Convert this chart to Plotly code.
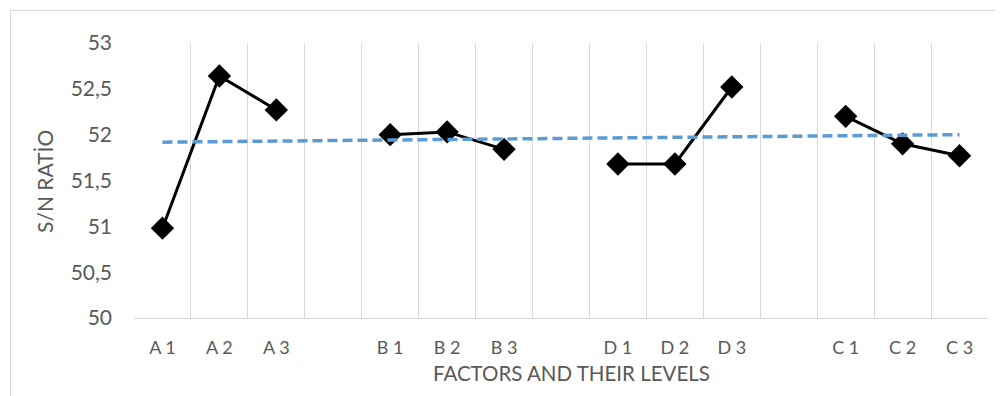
import numpy as np
import plotly.graph_objects as go

categories = ["A 1", "A 2", "A 3", " ", "B 1", "B 2", "B 3", "  ",
              "D 1", "D 2", "D 3", "   ", "C 1", "C 2", "C 3"]
sn_ratio = [50.98, 52.64, 52.27, None, 52.00, 52.03, 51.84, None,
            51.68, 51.68, 52.52, None, 52.20, 51.90, 51.77]
y_ticks = [50, 50.5, 51, 51.5, 52, 52.5, 53]

# Linear trendline (least squares over category index, blanks skipped)
idx = [i + 1 for i, v in enumerate(sn_ratio) if v is not None]
vals = [v for v in sn_ratio if v is not None]
slope, intercept = np.polyfit(idx, vals, 1)
trend_x = [categories[idx[0] - 1], categories[idx[-1] - 1]]
trend_y = [slope * idx[0] + intercept, slope * idx[-1] + intercept]

FONT = "Lato"
GRAY = "#595959"

fig = go.Figure()
fig.add_trace(go.Scatter(
    x=categories, y=sn_ratio, mode="lines+markers",
    line=dict(color="black", width=3),
    marker=dict(symbol="diamond", size=18, color="black"),
    connectgaps=False, showlegend=False,
))
fig.add_trace(go.Scatter(
    x=trend_x, y=trend_y, mode="lines",
    line=dict(color="#5B9BD5", width=3.5, dash="10px,5px"),
    showlegend=False,
))

# page has an 8px body margin; figure coordinates are page coords minus 8
OFF = 8
W, H = 1003 - OFF, 396 - OFF
L, R, T, B = 134 - OFF, 15, 43 - OFF, 78
pw, ph = W - L - R, H - T - B

def px_x(p):
    return (p - OFF - L) / pw

def px_y(p):
    return (H - B - (p - OFF)) / ph

fig.update_layout(
    width=W, height=H,
    margin=dict(l=L, r=R, t=T, b=B),
    plot_bgcolor="white", paper_bgcolor="white",
    separators=",.",
    font=dict(family=FONT, color=GRAY),
    xaxis=dict(
        type="category", categoryorder="array", categoryarray=categories,
        tickson="boundaries", showgrid=True, gridcolor="#d9d9d9", gridwidth=1,
        showline=True, linecolor="#d9d9d9", linewidth=1,
        ticks="outside", ticklen=0, tickcolor="rgba(0,0,0,0)",
        ticklabelstandoff=13,
        tickfont=dict(family=FONT, size=18, color=GRAY),
        range=[-0.5, 14.5], fixedrange=True,
    ),
    yaxis=dict(
        range=[50, 53], tickvals=y_ticks, showgrid=False, zeroline=False,
        showline=False, ticks="", ticklabelstandoff=21,
        tickfont=dict(family=FONT, size=21, color=GRAY),
        fixedrange=True,
    ),
    shapes=[dict(
        type="rect", xref="paper", yref="paper",
        x0=px_x(10.5), x1=px_x(1000.5), y0=px_y(420), y1=px_y(10.5),
        line=dict(color="#d9d9d9", width=1), fillcolor="rgba(0,0,0,0)",
        layer="below",
    )],
    annotations=[
        dict(text="FACTORS AND THEIR LEVELS", xref="paper", yref="paper",
             x=px_x(571), y=px_y(373), showarrow=False,
             xanchor="center", yanchor="middle",
             font=dict(family=FONT, size=20.5, color=GRAY)),
        dict(text="S/N RATİO", xref="paper", yref="paper",
             x=px_x(45), y=px_y(182), showarrow=False, textangle=-90,
             xanchor="center", yanchor="middle",
             font=dict(family=FONT, size=21, color=GRAY)),
    ],
)

fig.write_html("out.html")
